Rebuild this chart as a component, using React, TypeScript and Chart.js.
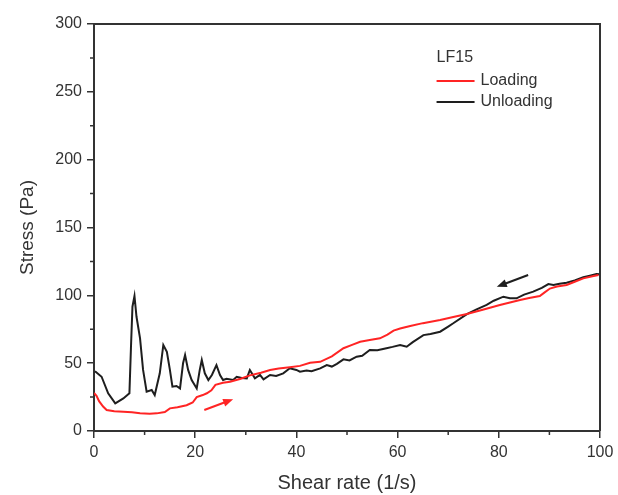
import React, { useEffect, useRef } from "react";
import { Chart, registerables } from "chart.js";

Chart.register(...registerables);

const loadShear = [0, 0.5, 1, 1.8, 2.5, 4, 5.8, 7.5, 9.1, 11, 12.4, 14, 15, 16.5, 18.3, 19.5, 20.3, 21.5, 22.3, 23.2, 24, 25.5, 26.9, 29, 30.8, 33, 34.8, 36.5, 38.7, 40.7, 42.7, 44.7, 47, 49.3, 51, 52.6, 54.5, 56.5, 58, 59.2, 60.5, 62.5, 65, 68.4, 71, 73.7, 77, 80.2, 82, 84.2, 86, 88.1, 89, 90.1, 91.5, 93.4, 95, 96.7, 98.5, 99.7];
const loadStress = [28, 26, 22, 18, 15.5, 14.5, 14.2, 13.8, 13, 12.8, 13, 14, 16.7, 17.5, 19, 21, 25, 26.5, 27.8, 30, 34, 35.5, 36.3, 38.5, 41, 43, 45, 46, 47, 48, 50.3, 51, 55, 61, 63.5, 65.8, 67, 68.3, 71, 74, 75.5, 77.4, 79.5, 81.8, 84, 86.2, 89.5, 92.9, 94.5, 96.5, 98, 99.5, 102, 105, 106.5, 107.6, 110, 112.5, 114, 115];

const unloadShear = [0.2, 1.5, 2.8, 4.2, 5.8, 7, 7.3, 7.6, 8, 8.4, 9.1, 9.7, 10.4, 11.4, 12, 13, 13.7, 14.4, 15, 15.5, 16.3, 17, 17.6, 18, 18.6, 19.3, 20.3, 20.9, 21.3, 21.9, 22.6, 23.3, 24.2, 24.9, 25.5, 26.2, 27.5, 28.2, 29.2, 30.2, 30.8, 31.8, 32.8, 33.5, 34.8, 36, 37.4, 38.7, 40, 40.7, 42, 43, 44.7, 46, 47, 48, 49.3, 50.5, 51.9, 53, 54.5, 56, 57.8, 59, 60.5, 61.8, 63, 65.1, 66.5, 68.4, 70, 71, 73.7, 75.5, 77.6, 79, 80.9, 82.2, 83.5, 85, 86.8, 88.5, 89.8, 90.8, 92, 93.4, 95, 96.7, 98, 99.3, 100];
const unloadStress = [44, 40, 27.8, 20.4, 24, 27.8, 61, 91.6, 99.5, 84.2, 68.3, 45, 29, 30.2, 26.5, 42.5, 63.4, 58.4, 45, 32.7, 33.2, 31.4, 49.9, 56, 45, 37.6, 31.4, 45, 52.3, 42.5, 37.6, 41.3, 48.6, 41.3, 37.6, 38.5, 37.6, 40, 39, 38.8, 45, 38.8, 41.3, 38, 41.3, 40.5, 42.5, 46.2, 45, 43.7, 44.5, 44, 46.2, 48.6, 47.5, 49.5, 52.8, 52, 54.8, 55.5, 59.7, 59.5, 61, 62, 63.4, 62.1, 65.5, 70.7, 71.5, 73.2, 77, 79.4, 86.2, 89.5, 92.9, 96, 99, 97.8, 97.8, 100.5, 102.7, 105.5, 108.3, 107.6, 108.5, 109.3, 111, 113.3, 114.5, 115.7, 115.5];

const redArrowX = [21.8, 27.5];
const redArrowY = [15.5, 23.4];
const blackArrowX = [85.8, 79.6];
const blackArrowY = [115, 106.3];

const legendTitle = "LF15";
const seriesNames = ["Loading", "Unloading"];
const RED = "#ff2424";
const BLACK = "#1e1e1e";
const FONT = "'Liberation Sans', Arial, sans-serif";

const extrasPlugin = {
  id: "extras",
  afterDraw(chart: any) {
    const { ctx, chartArea: a, scales } = chart;
    const xs = scales.x, ys = scales.y;
    ctx.save();
    ctx.strokeStyle = "#333";
    ctx.lineWidth = 2;
    ctx.beginPath();
    ctx.moveTo(a.left, a.top);
    ctx.lineTo(a.right, a.top);
    ctx.lineTo(a.right, a.bottom);
    ctx.stroke();
    ctx.lineWidth = 1.5;
    ctx.beginPath();
    for (let v = 10; v < 100; v += 20) {
      const px = xs.getPixelForValue(v);
      ctx.moveTo(px, a.bottom);
      ctx.lineTo(px, a.bottom + 4);
    }
    for (let v = 25; v < 300; v += 50) {
      const py = ys.getPixelForValue(v);
      ctx.moveTo(a.left, py);
      ctx.lineTo(a.left - 4, py);
    }
    ctx.stroke();
    const arrow = (xv: number[], yv: number[], color: string) => {
      const x0 = xs.getPixelForValue(xv[0]), y0 = ys.getPixelForValue(yv[0]);
      const x1 = xs.getPixelForValue(xv[1]), y1 = ys.getPixelForValue(yv[1]);
      const ang = Math.atan2(y1 - y0, x1 - x0);
      const hl = 10, hw = 4;
      ctx.strokeStyle = color;
      ctx.fillStyle = color;
      ctx.lineWidth = 2;
      ctx.beginPath();
      ctx.moveTo(x0, y0);
      ctx.lineTo(x1 - hl * Math.cos(ang) * 0.8, y1 - hl * Math.sin(ang) * 0.8);
      ctx.stroke();
      ctx.beginPath();
      ctx.moveTo(x1, y1);
      ctx.lineTo(x1 - hl * Math.cos(ang) - hw * Math.sin(ang), y1 - hl * Math.sin(ang) + hw * Math.cos(ang));
      ctx.lineTo(x1 - hl * Math.cos(ang) + hw * Math.sin(ang), y1 - hl * Math.sin(ang) - hw * Math.cos(ang));
      ctx.closePath();
      ctx.fill();
    };
    arrow(redArrowX, redArrowY, RED);
    arrow(blackArrowX, blackArrowY, BLACK);
    const lx = a.left + (a.right - a.left) * 0.677;
    const ly = a.top + 34;
    ctx.fillStyle = "#333";
    ctx.font = `16px ${FONT}`;
    ctx.textBaseline = "middle";
    ctx.textAlign = "left";
    ctx.fillText(legendTitle, lx, ly);
    const cols = [RED, BLACK];
    seriesNames.forEach((n, i) => {
      const yy = ly + 23 + i * 21;
      ctx.strokeStyle = cols[i];
      ctx.lineWidth = 2;
      ctx.beginPath();
      ctx.moveTo(lx, yy);
      ctx.lineTo(lx + 38, yy);
      ctx.stroke();
      ctx.fillStyle = "#333";
      ctx.fillText(n, lx + 44, yy);
    });
    ctx.restore();
  },
};

export default function App() {
  const ref = useRef<HTMLCanvasElement>(null);
  useEffect(() => {
    if (!ref.current) return;
    const chart = new Chart(ref.current, {
      type: "line",
      data: {
        datasets: [
          {
            label: seriesNames[0],
            data: loadShear.map((x, i) => ({ x, y: loadStress[i] })),
            borderColor: RED,
            borderWidth: 2,
            pointRadius: 0,
            tension: 0,
          },
          {
            label: seriesNames[1],
            data: unloadShear.map((x, i) => ({ x, y: unloadStress[i] })),
            borderColor: BLACK,
            borderWidth: 2,
            pointRadius: 0,
            tension: 0,
          },
        ],
      },
      plugins: [extrasPlugin],
      options: {
        animation: false,
        responsive: true,
        maintainAspectRatio: false,
        layout: { padding: { top: 24, right: 18, left: 0, bottom: 0 } },
        plugins: { legend: { display: false }, tooltip: { enabled: false } },
        scales: {
          x: {
            type: "linear",
            min: 0,
            max: 100,
            ticks: { stepSize: 20, color: "#333", font: { family: FONT, size: 16 }, padding: 5, maxRotation: 0 },
            grid: { drawOnChartArea: false, tickLength: 7, color: "#333", lineWidth: 1.5 },
            border: { color: "#333", width: 2 },
            title: { display: true, text: "Shear rate (1/s)", color: "#333", font: { family: FONT, size: 20 }, padding: { top: 0, bottom: 0 } },
            afterFit: (s: any) => { s.height = 64; s.paddingLeft = 0; s.paddingRight = 0; },
          },
          y: {
            min: 0,
            max: 300,
            ticks: { stepSize: 50, color: "#333", font: { family: FONT, size: 16 }, padding: 5 },
            grid: { drawOnChartArea: false, tickLength: 7, color: "#333", lineWidth: 1.5 },
            border: { color: "#333", width: 2 },
            title: { display: true, text: "Stress (Pa)", color: "#333", font: { family: FONT, size: 19 }, padding: { top: 16, bottom: 0 } },
            afterFit: (s: any) => { s.width = 94; s.paddingTop = 0; s.paddingBottom = 0; },
          },
        },
      },
    });
    return () => chart.destroy();
  }, []);
  return (
    <div style={{ position: "absolute", left: 0, top: 0, width: 618, height: 495 }}>
      <canvas ref={ref} />
    </div>
  );
}
